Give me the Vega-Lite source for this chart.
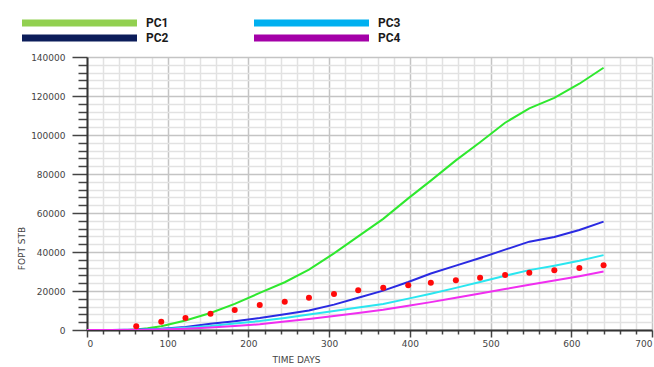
{
  "$schema": "https://vega.github.io/schema/vega-lite/v6.json",
  "width": 565,
  "height": 273,
  "autosize": {"type": "none"},
  "padding": {"left": 87, "top": 57, "right": 2, "bottom": 37},
  "background": "white",
  "config": {
    "view": {"stroke": null},
    "axis": {"labelFont": "DejaVu Sans", "labelFontSize": 9, "labelColor": "#444", "titleFont": "DejaVu Sans", "titleFontSize": 9, "titleColor": "#444", "titleFontWeight": "normal"}
  },
  "datasets": {
    "sim": [
      {"day": 0, "fopt": 0, "case": "PC1"}, {"day": 31, "fopt": 0, "case": "PC1"}, {"day": 50, "fopt": 0, "case": "PC1"},
      {"day": 61, "fopt": 300, "case": "PC1"}, {"day": 75, "fopt": 870, "case": "PC1"}, {"day": 92, "fopt": 1900, "case": "PC1"},
      {"day": 122, "fopt": 4900, "case": "PC1"}, {"day": 153, "fopt": 8700, "case": "PC1"}, {"day": 183, "fopt": 13400, "case": "PC1"},
      {"day": 214, "fopt": 19000, "case": "PC1"}, {"day": 245, "fopt": 24500, "case": "PC1"}, {"day": 275, "fopt": 31000, "case": "PC1"},
      {"day": 306, "fopt": 39300, "case": "PC1"}, {"day": 336, "fopt": 48000, "case": "PC1"}, {"day": 367, "fopt": 57000, "case": "PC1"},
      {"day": 398, "fopt": 67500, "case": "PC1"}, {"day": 426, "fopt": 76600, "case": "PC1"}, {"day": 457, "fopt": 87000, "case": "PC1"},
      {"day": 487, "fopt": 96300, "case": "PC1"}, {"day": 518, "fopt": 106300, "case": "PC1"}, {"day": 548, "fopt": 113700, "case": "PC1"},
      {"day": 579, "fopt": 119000, "case": "PC1"}, {"day": 610, "fopt": 126300, "case": "PC1"}, {"day": 640, "fopt": 134500, "case": "PC1"},

      {"day": 0, "fopt": 0, "case": "PC2"}, {"day": 31, "fopt": 0, "case": "PC2"}, {"day": 61, "fopt": 200, "case": "PC2"},
      {"day": 92, "fopt": 700, "case": "PC2"}, {"day": 122, "fopt": 1600, "case": "PC2"}, {"day": 153, "fopt": 3200, "case": "PC2"},
      {"day": 183, "fopt": 4500, "case": "PC2"}, {"day": 214, "fopt": 6100, "case": "PC2"}, {"day": 245, "fopt": 8100, "case": "PC2"},
      {"day": 275, "fopt": 10000, "case": "PC2"}, {"day": 306, "fopt": 13000, "case": "PC2"}, {"day": 336, "fopt": 16500, "case": "PC2"},
      {"day": 367, "fopt": 20200, "case": "PC2"}, {"day": 398, "fopt": 24600, "case": "PC2"}, {"day": 426, "fopt": 29000, "case": "PC2"},
      {"day": 457, "fopt": 33000, "case": "PC2"}, {"day": 487, "fopt": 36900, "case": "PC2"}, {"day": 518, "fopt": 41200, "case": "PC2"},
      {"day": 548, "fopt": 45300, "case": "PC2"}, {"day": 579, "fopt": 47700, "case": "PC2"}, {"day": 610, "fopt": 51300, "case": "PC2"},
      {"day": 640, "fopt": 55600, "case": "PC2"},

      {"day": 0, "fopt": 0, "case": "PC3"}, {"day": 31, "fopt": 0, "case": "PC3"}, {"day": 61, "fopt": 100, "case": "PC3"},
      {"day": 92, "fopt": 500, "case": "PC3"}, {"day": 122, "fopt": 1200, "case": "PC3"}, {"day": 153, "fopt": 2100, "case": "PC3"},
      {"day": 183, "fopt": 3300, "case": "PC3"}, {"day": 214, "fopt": 4600, "case": "PC3"}, {"day": 245, "fopt": 6200, "case": "PC3"},
      {"day": 275, "fopt": 7900, "case": "PC3"}, {"day": 306, "fopt": 9700, "case": "PC3"}, {"day": 336, "fopt": 11500, "case": "PC3"},
      {"day": 367, "fopt": 13300, "case": "PC3"}, {"day": 398, "fopt": 16100, "case": "PC3"}, {"day": 426, "fopt": 18600, "case": "PC3"},
      {"day": 457, "fopt": 21600, "case": "PC3"}, {"day": 487, "fopt": 24600, "case": "PC3"}, {"day": 518, "fopt": 27800, "case": "PC3"},
      {"day": 548, "fopt": 30700, "case": "PC3"}, {"day": 579, "fopt": 33000, "case": "PC3"}, {"day": 610, "fopt": 35500, "case": "PC3"},
      {"day": 640, "fopt": 38400, "case": "PC3"},

      {"day": 0, "fopt": 0, "case": "PC4"}, {"day": 31, "fopt": 0, "case": "PC4"}, {"day": 61, "fopt": 50, "case": "PC4"},
      {"day": 92, "fopt": 300, "case": "PC4"}, {"day": 122, "fopt": 700, "case": "PC4"}, {"day": 153, "fopt": 1300, "case": "PC4"},
      {"day": 183, "fopt": 2000, "case": "PC4"}, {"day": 214, "fopt": 2900, "case": "PC4"}, {"day": 245, "fopt": 4300, "case": "PC4"},
      {"day": 275, "fopt": 5700, "case": "PC4"}, {"day": 306, "fopt": 7200, "case": "PC4"}, {"day": 336, "fopt": 8700, "case": "PC4"},
      {"day": 367, "fopt": 10400, "case": "PC4"}, {"day": 398, "fopt": 12400, "case": "PC4"}, {"day": 426, "fopt": 14300, "case": "PC4"},
      {"day": 457, "fopt": 16500, "case": "PC4"}, {"day": 487, "fopt": 18700, "case": "PC4"}, {"day": 518, "fopt": 21000, "case": "PC4"},
      {"day": 548, "fopt": 23200, "case": "PC4"}, {"day": 579, "fopt": 25400, "case": "PC4"}, {"day": 610, "fopt": 27600, "case": "PC4"},
      {"day": 640, "fopt": 30000, "case": "PC4"}
    ],
    "obs": [
      {"day": 61, "fopt": 1900}, {"day": 92, "fopt": 4260}, {"day": 122, "fopt": 6150}, {"day": 153, "fopt": 8360},
      {"day": 183, "fopt": 10260}, {"day": 214, "fopt": 12820}, {"day": 245, "fopt": 14500}, {"day": 275, "fopt": 16560},
      {"day": 306, "fopt": 18460}, {"day": 336, "fopt": 20350}, {"day": 367, "fopt": 21700}, {"day": 398, "fopt": 22900},
      {"day": 426, "fopt": 24260}, {"day": 457, "fopt": 25490}, {"day": 487, "fopt": 26820}, {"day": 518, "fopt": 28200},
      {"day": 548, "fopt": 29390}, {"day": 579, "fopt": 30620}, {"day": 610, "fopt": 31800}, {"day": 640, "fopt": 33180}
    ]
  },
  "encoding": {
    "x": {
      "field": "day", "type": "quantitative",
      "scale": {"domain": [0, 700], "nice": false},
      "axis": {
        "title": "TIME   DAYS", "titleX": 209, "titleY": 29, "titleAlign": "center", "titleBaseline": "middle",
        "values": [0,20,40,60,80,100,120,140,160,180,200,220,240,260,280,300,320,340,360,380,400,420,440,460,480,500,520,540,560,580,600,620,640,660,680,700],
        "labelExpr": "datum.value % 100 === 0 ? datum.label : ''",
        "labelOverlap": false, "labelFlush": true, "labelPadding": 2,
        "domainColor": "#333", "domainWidth": 2,
        "tickColor": "#444", "tickWidth": 1.5,
        "tickSize": {"condition": {"test": "datum.value % 100 === 0", "value": 7}, "value": 4},
        "grid": true, "gridWidth": 1.5,
        "gridColor": {"condition": {"test": "datum.value % 100 === 0", "value": "#c4c4c4"}, "value": "#e2e2e2"}
      }
    },
    "y": {
      "field": "fopt", "type": "quantitative",
      "scale": {"domain": [0, 140000], "nice": false},
      "axis": {
        "title": "FOPT  STB", "titleX": -66, "titleY": 191, "titleAlign": "center", "titleBaseline": "middle", "titleAngle": -90,
        "values": [0,4000,8000,12000,16000,20000,24000,28000,32000,36000,40000,44000,48000,52000,56000,60000,64000,68000,72000,76000,80000,84000,88000,92000,96000,100000,104000,108000,112000,116000,120000,124000,128000,132000,136000,140000],
        "format": "d",
        "labelExpr": "datum.value % 20000 === 0 ? datum.label : ''",
        "labelOverlap": false, "labelPadding": 7,
        "domainColor": "#333", "domainWidth": 2,
        "tickColor": "#444", "tickWidth": 1.5,
        "tickSize": {"condition": {"test": "datum.value % 20000 === 0", "value": 15}, "value": 9},
        "grid": true, "gridWidth": 1.5,
        "gridColor": {"condition": {"test": "datum.value % 20000 === 0", "value": "#c4c4c4"}, "value": "#e2e2e2"}
      }
    }
  },
  "layer": [
    {
      "data": {"name": "sim"},
      "mark": {"type": "point", "filled": true, "size": 0, "strokeWidth": 0, "opacity": 1},
      "encoding": {
        "color": {
          "field": "case", "type": "nominal",
          "scale": {"domain": ["PC1", "PC2", "PC3", "PC4"], "range": ["#92d050", "#0c1d5a", "#00b0f0", "#a400a8"]},
          "legend": {
            "title": null, "orient": "none", "legendX": -13.5, "legendY": -40,
            "columns": 2, "columnPadding": 85, "rowPadding": 3,
            "symbolType": "M-11.5,-0.7H11.5V0.7H-11.5Z", "symbolSize": 100, "symbolStrokeWidth": 0, "symbolOpacity": 1,
            "labelFont": "Liberation Sans Narrow, Roboto, sans-serif", "labelFontSize": 12, "labelFontWeight": "bold",
            "labelColor": "#1a1a1a", "labelOffset": 60.5
          }
        }
      }
    },
    {
      "data": {"name": "sim"},
      "mark": {"type": "line", "strokeWidth": 2, "clip": true},
      "encoding": {
        "color": {
          "field": "case", "type": "nominal",
          "scale": {"domain": ["PC1", "PC2", "PC3", "PC4"], "range": ["#2ee82e", "#2a2ae2", "#2ae6f0", "#f02ef0"]},
          "legend": null
        },
        "order": {"field": "case"}
      }
    },
    {
      "data": {"name": "obs"},
      "mark": {"type": "circle", "color": "#ff0a0a", "size": 36, "opacity": 1}
    }
  ],
  "resolve": {"scale": {"color": "independent"}, "legend": {"color": "independent"}}
}
